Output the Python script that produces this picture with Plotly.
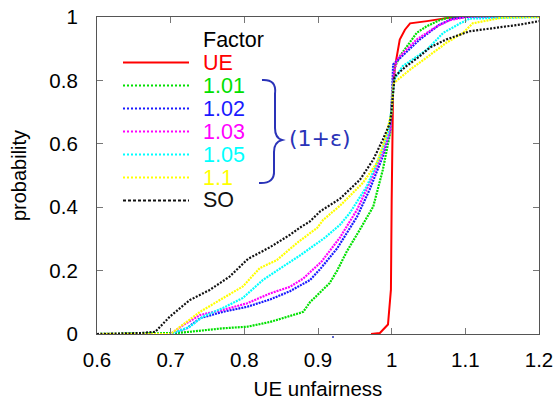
import plotly.graph_objects as go

# ---------------- data ----------------
ue_x = [0.972, 0.984, 0.995, 0.999, 1.0, 1.002, 1.005, 1.011, 1.018, 1.025, 1.048, 1.079, 1.1, 1.2]
ue_p = [0.0, 0.003, 0.03, 0.14, 0.42, 0.79, 0.85, 0.929, 0.96, 0.98, 0.987, 0.998, 1.0, 1.0]

f101_x = [0.6, 0.706, 0.726, 0.771, 0.804, 0.835, 0.875, 0.88, 0.889, 0.907, 0.916, 0.926, 0.939,
          0.957, 0.975, 0.988, 0.998, 1.0, 1.004, 1.011, 1.034, 1.047, 1.065, 1.08, 1.2]
f101_p = [0.0, 0.003, 0.007, 0.018, 0.023, 0.038, 0.066, 0.07, 0.1, 0.142, 0.161, 0.2, 0.26,
          0.33, 0.402, 0.518, 0.634, 0.72, 0.84, 0.876, 0.95, 0.97, 0.99, 1.0, 1.0]

f102_x = [0.6, 0.70, 0.722, 0.74, 0.771, 0.804, 0.835, 0.862, 0.875, 0.889, 0.903, 0.926, 0.953,
          0.97, 0.988, 0.998, 1.0, 1.002, 1.038, 1.065, 1.083, 1.1, 1.2]
f102_p = [0.0, 0.0, 0.018, 0.05, 0.07, 0.086, 0.109, 0.135, 0.152, 0.17, 0.205, 0.27, 0.37,
          0.455, 0.56, 0.644, 0.73, 0.85, 0.929, 0.976, 0.995, 1.0, 1.0]

f103_x = [0.6, 0.70, 0.717, 0.74, 0.771, 0.804, 0.835, 0.862, 0.88, 0.905, 0.93, 0.953, 0.97,
          0.988, 0.998, 1.0, 1.003, 1.007, 1.034, 1.061, 1.079, 1.1, 1.2]
f103_p = [0.0, 0.0, 0.028, 0.06, 0.076, 0.097, 0.128, 0.149, 0.175, 0.229, 0.305, 0.392, 0.476,
          0.571, 0.644, 0.72, 0.82, 0.866, 0.929, 0.97, 0.99, 1.0, 1.0]

f105_x = [0.6, 0.70, 0.726, 0.744, 0.771, 0.798, 0.825, 0.835, 0.852, 0.877, 0.91, 0.93, 0.943,
          0.966, 0.984, 0.995, 1.0, 1.003, 1.015, 1.048, 1.07, 1.093, 1.106, 1.2]
f105_p = [0.0, 0.0, 0.023, 0.055, 0.082, 0.114, 0.17, 0.186, 0.212, 0.25, 0.305, 0.345, 0.381,
          0.465, 0.56, 0.634, 0.71, 0.80, 0.845, 0.897, 0.95, 0.98, 0.995, 1.0]

f110_x = [0.6, 0.70, 0.713, 0.74, 0.771, 0.798, 0.821, 0.835, 0.844, 0.873, 0.899, 0.907, 0.93,
          0.961, 0.98, 0.991, 1.0, 1.002, 1.025, 1.052, 1.075, 1.097, 1.11, 1.15, 1.2]
f110_p = [0.0, 0.0, 0.023, 0.07, 0.113, 0.15, 0.208, 0.224, 0.233, 0.29, 0.335, 0.36, 0.405,
          0.477, 0.54, 0.613, 0.70, 0.79, 0.834, 0.88, 0.92, 0.95, 0.98, 0.998, 1.0]

so_x = [0.6, 0.66, 0.679, 0.699, 0.726, 0.753, 0.78, 0.805, 0.835, 0.862, 0.875, 0.889, 0.903,
        0.93, 0.957, 0.975, 0.988, 0.998, 1.0, 1.004, 1.02, 1.038, 1.052, 1.074, 1.106, 1.142,
        1.174, 1.2]
so_p = [0.0, 0.003, 0.007, 0.055, 0.107, 0.139, 0.181, 0.237, 0.274, 0.313, 0.335, 0.355, 0.387,
        0.427, 0.487, 0.55, 0.613, 0.667, 0.708, 0.813, 0.845, 0.876, 0.904, 0.929, 0.955, 0.966,
        0.976, 0.987]

series_names = ["UE", "1.01", "1.02", "1.03", "1.05", "1.1", "SO"]
series_x = [ue_x, f101_x, f102_x, f103_x, f105_x, f110_x, so_x]
series_p = [ue_p, f101_p, f102_p, f103_p, f105_p, f110_p, so_p]
series_colors = ["#ff0000", "#00e000", "#1a1aff", "#ff00ff", "#00ffff", "#ffff00", "#111111"]
series_dash = ["solid", "2px,1px", "2px,1px", "2px,1px", "2px,1px", "2px,1px", "2px,1.5px"]
legend_dash = ["solid", "2px,2px", "2px,2px", "2px,2px", "2px,2px", "2px,2px", "3px,2px"]

x_ticks = [0.6, 0.7, 0.8, 0.9, 1.0, 1.1, 1.2]
x_tick_labels = ["0.6", "0.7", "0.8", "0.9", "1", "1.1", "1.2"]
y_ticks = [0, 0.2, 0.4, 0.6, 0.8, 1.0]
y_tick_labels = ["0", "0.2", "0.4", "0.6", "0.8", "1"]

FONT = "Liberation Sans, Arial, Helvetica, sans-serif"
W, H = 558, 400
L, R, T, B = 97, 19, 17, 66
PW, PH = W - L - R, H - T - B


def px_x(px):
    return (px - L) / PW


def px_y(py):
    return (H - B - py) / PH


fig = go.Figure()
for name, xs, ps, col, dash in zip(series_names, series_x, series_p, series_colors, series_dash):
    fig.add_trace(go.Scatter(
        x=xs, y=ps, mode="lines", name=name, showlegend=False,
        line=dict(color=col, width=2.2 if name != "UE" else 2, dash=dash),
        hoverinfo="x+y+name",
    ))

shapes = []
annotations = []

# hand-made legend (long line samples like the original)
annotations.append(dict(xref="paper", yref="paper", x=px_x(202), y=px_y(40), text="Factor",
                        showarrow=False, xanchor="left", yanchor="middle", borderpad=0,
                        font=dict(family=FONT, size=21.5, color="#000000")))
for i, (name, col, dash) in enumerate(zip(series_names, series_colors, legend_dash)):
    yy = px_y(62.5 + 23 * i)
    shapes.append(dict(type="line", xref="paper", yref="paper", x0=px_x(123), x1=px_x(189),
                       y0=yy, y1=yy, line=dict(color=col, width=2, dash=dash)))
    annotations.append(dict(xref="paper", yref="paper", x=px_x(202), y=yy, text=name,
                            showarrow=False, xanchor="left", yanchor="middle", borderpad=0,
                            font=dict(family=FONT, size=21.5, color=col)))

# hand-drawn brace and (1+ε) note
brace = (f"M {px_x(262)},{px_y(80)} Q {px_x(277)},{px_y(79)} {px_x(275)},{px_y(94)} "
         f"L {px_x(275)},{px_y(128)} Q {px_x(275)},{px_y(138)} {px_x(282)},{px_y(140)} "
         f"Q {px_x(274)},{px_y(142)} {px_x(274)},{px_y(152)} "
         f"L {px_x(274)},{px_y(170)} Q {px_x(275)},{px_y(184)} {px_x(259)},{px_y(183)}")
shapes.append(dict(type="path", xref="paper", yref="paper", path=brace,
                   line=dict(color="#2a33b8", width=2)))
annotations.append(dict(xref="paper", yref="paper", x=px_x(288), y=px_y(138), text="(1+ε)",
                        showarrow=False, xanchor="left", yanchor="middle", borderpad=0,
                        font=dict(family="DejaVu Sans, sans-serif", size=22, color="#2a33b8")))
shapes.append(dict(type="circle", xref="paper", yref="paper",
                   x0=px_x(332), x1=px_x(334), y0=px_y(338), y1=px_y(336),
                   fillcolor="#2a33b8", line=dict(width=0)))

fig.update_layout(
    width=W, height=H,
    margin=dict(l=L, r=R, t=T, b=B, autoexpand=False),
    paper_bgcolor="white", plot_bgcolor="white",
    font=dict(family=FONT, size=20, color="#000000"),
    shapes=shapes, annotations=annotations,
    showlegend=False,
)
axis_common = dict(showgrid=False, zeroline=False, showline=True, linecolor="#555555",
                   linewidth=1.2, mirror="ticks", ticks="inside", ticklen=6,
                   tickcolor="#777777", tickwidth=1, tickfont=dict(family=FONT, size=20.5),
                   automargin=False)
fig.update_xaxes(range=[0.6, 1.2], tickvals=x_ticks, ticktext=x_tick_labels,
                 title=dict(text="UE unfairness", font=dict(family=FONT, size=20.5), standoff=17),
                 ticklabelstandoff=7, **axis_common)
fig.update_yaxes(range=[0, 1], tickvals=y_ticks, ticktext=y_tick_labels,
                 title=dict(text="probability", font=dict(family=FONT, size=20), standoff=17),
                 ticklabelstandoff=14, **axis_common)

fig.write_html("out.html", config={"displayModeBar": False},
               post_script="document.body.style.margin='0';document.body.style.padding='0';")
